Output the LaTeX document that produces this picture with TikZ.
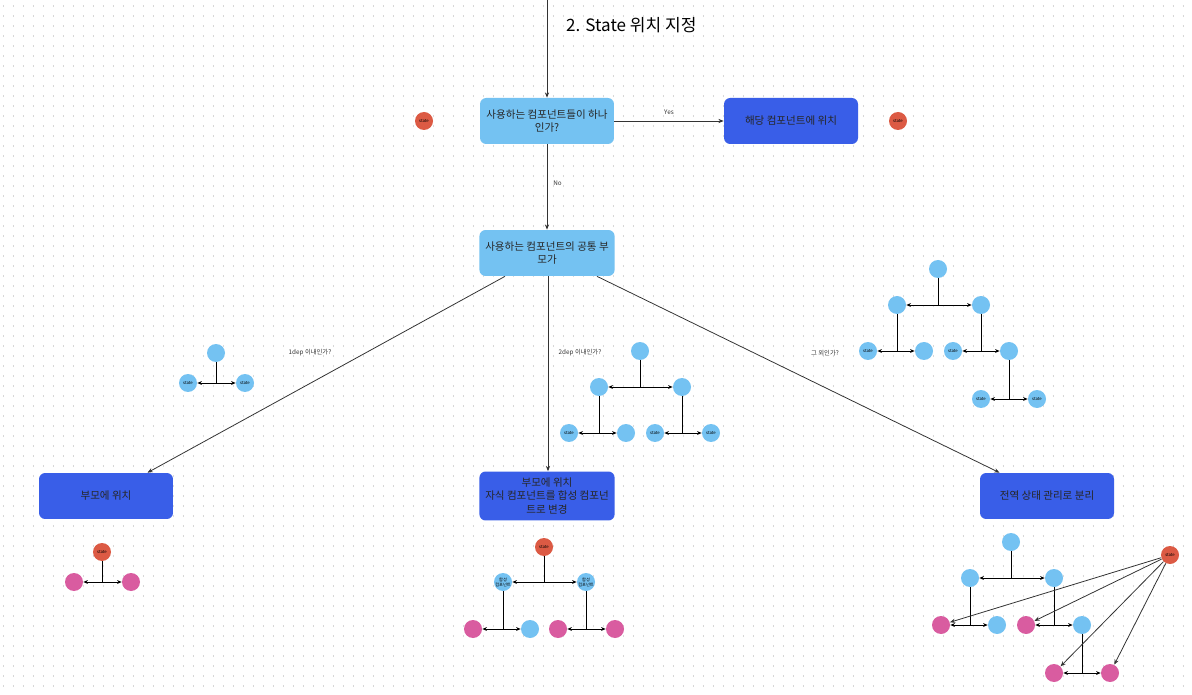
\documentclass[tikz,border=0pt]{standalone}
\usepackage{fontspec}
\setmainfont{Noto Sans CJK KR}
\usetikzlibrary{arrows.meta}
\definecolor{lightblue}{RGB}{116,194,242}
\definecolor{darkblue}{RGB}{57,94,232}
\definecolor{statered}{RGB}{220,90,68}
\definecolor{childpink}{RGB}{217,92,160}
\definecolor{gridgray}{RGB}{215,215,215}
\begin{document}
\begin{tikzpicture}[x=0.02cm, y=-0.02cm,
    qbox/.style={rectangle, rounded corners=3.5pt, fill=lightblue, minimum width=2.68cm, minimum height=0.92cm, align=center, font=\fontsize{6}{7.9}\selectfont, text=black!85},
    abox/.style={qbox, fill=darkblue},
    dot/.style={circle, inner sep=0pt, minimum size=0.36cm, font=\fontsize{2.4}{2.8}\selectfont},
    bnode/.style={dot, fill=lightblue},
    rnode/.style={dot, fill=statered},
    pnode/.style={dot, fill=childpink},
    lbl/.style={font=\fontsize{3.6}{4}\selectfont, text=black!80},
    arr/.style={-{Stealth[length=3pt,width=2.4pt]}, line width=0.45pt, draw=black!80},
    link/.style={line width=0.55pt},
    tarr/.style={link, -{Stealth[length=2.6pt,width=2.2pt]}},
    dotline/.style={gridgray, line width=0.6pt, dash pattern=on 0.6pt off 5.09pt},
]
    % Background
    \useasboundingbox[fill=white] (0,0) rectangle (1192,695);
    \foreach \gy in {6,16,...,695} \draw[dotline] (3,\gy) -- (1192,\gy);

    % Title
    \node[font=\fontsize{9.7}{12}\selectfont, anchor=west] (title) at (560,25) {2. State 위치 지정};
    \coordinate (entry) at (547,0);

    % Decisions
    \node[qbox] (single) at (547,121) {사용하는 컴포넌트들이 하나\\인가?};
    \node[abox] (here) at (791,121) {해당 컴포넌트에 위치};
    \node[qbox] (common) at (547,253) {사용하는 컴포넌트의 공통 부\\모가};
    \node[rnode] (stateA) at (424,121) {state};
    \node[rnode] (stateB) at (898,121) {state};

    % Results
    \node[abox] (toparent) at (106,496) {부모에 위치};
    \node[abox] (compound) at (547,496) {부모에 위치\\자식 컴포넌트를 합성 컴포넌\\트로 변경};
    \node[abox] (global) at (1047,496) {전역 상태 관리로 분리};

    % Flow
    \draw[arr] (entry) -- (single);
    \draw[arr] (single) -- node[lbl, above, pos=0.5] {Yes} (here);
    \draw[arr] (single) -- node[lbl, right, pos=0.45] {No} (common);
    \draw[arr] ([xshift=-0.84cm]common.south) -- ([xshift=0.83cm]toparent.north);
    \draw[arr] ([xshift=0.02cm]common.south) -- ([xshift=0.02cm]compound.north);
    \draw[arr] ([xshift=1cm]common.south) -- ([xshift=-0.95cm]global.north);
    \node[lbl] (one) at (310,353) {1dep 이내인가?};
    \node[lbl] (two) at (580,353) {2dep 이내인가?};
    \node[lbl] (other) at (825,353) {그 외인가?};

    % 1dep tree
    \node[bnode] (a0) at (216,353) {};
    \node[bnode] (a1) at (188,383) {state};
    \node[bnode] (a2) at (245,383) {state};
    \coordinate (aj) at (a0 |- a1);
    \draw[link] (a0) -- (aj);
    \draw[tarr] (aj) -- (a1);
    \draw[tarr] (aj) -- (a2);

    % 2dep tree
    \node[bnode] (b0) at (640,351) {};
    \node[bnode] (b1) at (599,387) {};
    \node[bnode] (b2) at (682,387) {};
    \node[bnode] (b3) at (569,433) {state};
    \node[bnode] (b4) at (626,433) {};
    \node[bnode] (b5) at (655,433) {state};
    \node[bnode] (b6) at (711,433) {state};
    \coordinate (bj0) at (b0 |- b1);
    \coordinate (bj1) at (b1 |- b3);
    \coordinate (bj2) at (b2 |- b5);
    \draw[link] (b0) -- (bj0);
    \draw[tarr] (bj0) -- (b1);
    \draw[tarr] (bj0) -- (b2);
    \draw[link] (b1) -- (bj1);
    \draw[tarr] (bj1) -- (b3);
    \draw[tarr] (bj1) -- (b4);
    \draw[link] (b2) -- (bj2);
    \draw[tarr] (bj2) -- (b5);
    \draw[tarr] (bj2) -- (b6);

    % Deeper tree
    \node[bnode] (c0) at (938,269) {};
    \node[bnode] (c1) at (897,305) {};
    \node[bnode] (c2) at (981,305) {};
    \node[bnode] (c3) at (868,351) {state};
    \node[bnode] (c4) at (924,351) {};
    \node[bnode] (c5) at (953,351) {state};
    \node[bnode] (c6) at (1009,351) {};
    \node[bnode] (c7) at (981,399) {state};
    \node[bnode] (c8) at (1037,399) {state};
    \coordinate (cj0) at (c0 |- c1);
    \coordinate (cj1) at (c1 |- c3);
    \coordinate (cj2) at (c2 |- c5);
    \coordinate (cj3) at (c6 |- c7);
    \draw[link] (c0) -- (cj0);
    \draw[tarr] (cj0) -- (c1);
    \draw[tarr] (cj0) -- (c2);
    \draw[link] (c1) -- (cj1);
    \draw[tarr] (cj1) -- (c3);
    \draw[tarr] (cj1) -- (c4);
    \draw[link] (c2) -- (cj2);
    \draw[tarr] (cj2) -- (c5);
    \draw[tarr] (cj2) -- (c6);
    \draw[link] (c6) -- (cj3);
    \draw[tarr] (cj3) -- (c7);
    \draw[tarr] (cj3) -- (c8);

    % Parent holds state
    \node[rnode] (d0) at (102,552) {state};
    \node[pnode] (d1) at (74,582) {};
    \node[pnode] (d2) at (131,582) {};
    \coordinate (dj) at (d0 |- d1);
    \draw[link] (d0) -- (dj);
    \draw[tarr] (dj) -- (d1);
    \draw[tarr] (dj) -- (d2);

    % Compound components
    \node[rnode] (e0) at (544,547) {state};
    \node[bnode, align=center] (e1) at (503,582) {합성\\컴포넌트};
    \node[bnode, align=center] (e2) at (586,582) {합성\\컴포넌트};
    \node[pnode] (e3) at (473,629) {};
    \node[bnode] (e4) at (530,629) {};
    \node[pnode] (e5) at (558,629) {};
    \node[pnode] (e6) at (615,629) {};
    \coordinate (ej0) at (e0 |- e1);
    \coordinate (ej1) at (e1 |- e3);
    \coordinate (ej2) at (e2 |- e5);
    \draw[link] (e0) -- (ej0);
    \draw[tarr] (ej0) -- (e1);
    \draw[tarr] (ej0) -- (e2);
    \draw[link] (e1) -- (ej1);
    \draw[tarr] (ej1) -- (e3);
    \draw[tarr] (ej1) -- (e4);
    \draw[link] (e2) -- (ej2);
    \draw[tarr] (ej2) -- (e5);
    \draw[tarr] (ej2) -- (e6);

    % Global store
    \node[bnode] (f0) at (1011,542) {};
    \node[bnode] (f1) at (970,578) {};
    \node[bnode] (f2) at (1054,578) {};
    \node[pnode] (f3) at (941,625) {};
    \node[bnode] (f4) at (997,625) {};
    \node[pnode] (f5) at (1026,625) {};
    \node[bnode] (f6) at (1082,625) {};
    \node[pnode] (f7) at (1054,673) {};
    \node[pnode] (f8) at (1110,673) {};
    \node[rnode] (store) at (1170,555) {state};
    \coordinate (fj0) at (f0 |- f1);
    \coordinate (fj1) at (f1 |- f3);
    \coordinate (fj2) at (f2 |- f5);
    \coordinate (fj3) at (f6 |- f7);
    \draw[link] (f0) -- (fj0);
    \draw[tarr] (fj0) -- (f1);
    \draw[tarr] (fj0) -- (f2);
    \draw[link] (f1) -- (fj1);
    \draw[tarr] (fj1) -- (f3);
    \draw[tarr] (fj1) -- (f4);
    \draw[link] (f2) -- (fj2);
    \draw[tarr] (fj2) -- (f5);
    \draw[tarr] (fj2) -- (f6);
    \draw[link] (f6) -- (fj3);
    \draw[tarr] (fj3) -- (f7);
    \draw[tarr] (fj3) -- (f8);
    \draw[arr] (store) -- (f3);
    \draw[arr] (store) -- (f5);
    \draw[arr] (store) -- (f7);
    \draw[arr] (store) -- (f8);
\end{tikzpicture}
\end{document}
